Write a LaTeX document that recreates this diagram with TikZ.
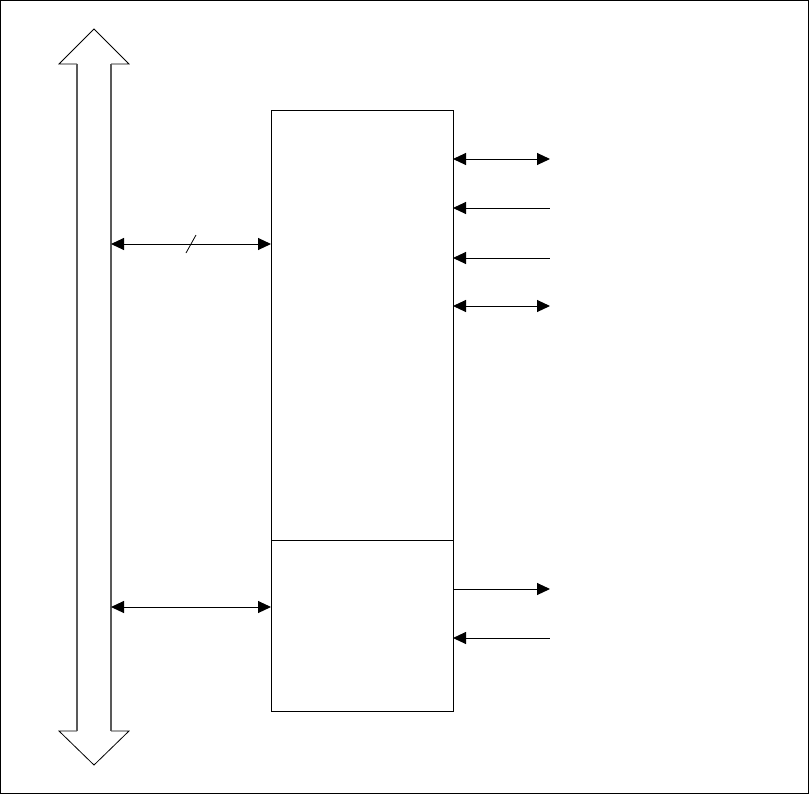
\documentclass[tikz,border=0pt]{standalone}
\usetikzlibrary{arrows.meta,positioning}
\begin{document}
\begin{tikzpicture}[x=1pt,y=-1pt,
    >={Triangle[length=13pt,width=12pt]},
    blk/.style={draw,line width=1pt,minimum width=182pt,minimum height=#1,inner sep=0pt,outer sep=0pt},
    sig/.style={line width=1pt}]
    \def\busL{77}
    \def\busR{111}
    \def\rEnd{550}
    \useasboundingbox (0,0) rectangle (810,795);
    % outer frame
    \draw[line width=1.2pt] (0.6,0.6) rectangle (808.6,793.6);
    % system bus (wide double arrow)
    \draw[line width=0.8pt] (\busL,64) -- (59,64) -- (94,29) -- (129,64) -- (\busR,64);
    \draw[line width=0.8pt] (\busL,731) -- (59,731) -- (94,765) -- (129,731) -- (\busR,731);
    \draw[gray!70!black,line width=1.2pt] (\busL,64) -- (\busL,731);
    \draw[gray!70!black,line width=1.2pt] (\busR,64) -- (\busR,731);
    % blocks
    \node[blk=430pt,anchor=north west] (core) at (271,110) {};
    \node[blk=171pt,anchor=north west] (io) at (core.south west) {};
    % bus to blocks
    \coordinate (b1) at (\busR,244);
    \coordinate (b2) at (\busR,607);
    \draw[sig,<->] (b1) -- (b1 -| core.west) coordinate[pos=0.5] (b1m);
    \draw[line width=0.8pt] ([shift={(-5,9)}]b1m) -- ([shift={(5,-9)}]b1m);
    \draw[sig,<->] (b2) -- (b2 -| io.west);
    % signals on the right
    \coordinate (r1) at (\rEnd,159);
    \coordinate (r2) at (\rEnd,208);
    \coordinate (r3) at (\rEnd,258);
    \coordinate (r4) at (\rEnd,306);
    \coordinate (r5) at (\rEnd,589);
    \coordinate (r6) at (\rEnd,638);
    \draw[sig,<->] (r1 -| core.east) -- (r1);
    \draw[sig,<-] (r2 -| core.east) -- (r2);
    \draw[sig,<-] (r3 -| core.east) -- (r3);
    \draw[sig,<->] (r4 -| core.east) -- (r4);
    \draw[sig,->] (r5 -| io.east) -- (r5);
    \draw[sig,<-] (r6 -| io.east) -- (r6);
\end{tikzpicture}
\end{document}
